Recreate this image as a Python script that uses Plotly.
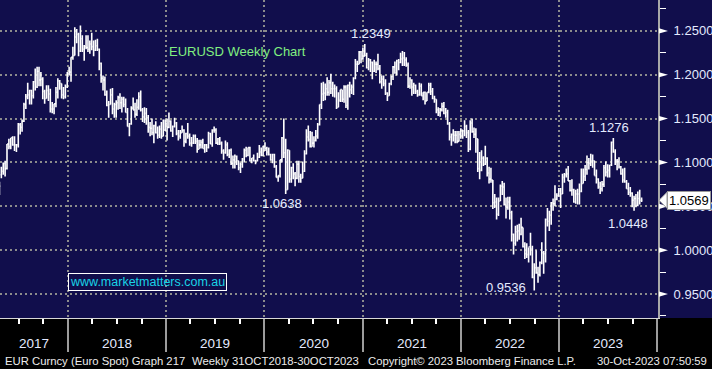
import pandas as pd
import plotly.graph_objects as go

# ---------------- data (weekly EURUSD bars, Friday week ends) ----------------
first_week = "2017-04-21"

week_open = [
    # 2017
    1.064, 1.086, 1.090, 1.099, 1.093, 1.121, 1.118, 1.128, 1.120, 1.120, 1.120, 1.143, 1.140, 1.147, 1.166, 1.175, 1.177, 1.182, 1.176,
    1.192, 1.186, 1.204, 1.194, 1.195, 1.181, 1.173, 1.182, 1.178, 1.161, 1.161, 1.167, 1.180, 1.193, 1.190, 1.177, 1.175, 1.186,
    # 2018
    1.201, 1.203, 1.220, 1.222, 1.243, 1.246, 1.227, 1.241, 1.229, 1.232, 1.231, 1.229, 1.235, 1.232, 1.228, 1.233, 1.229, 1.213, 1.196,
    1.194, 1.177, 1.165, 1.166, 1.177, 1.161, 1.166, 1.168, 1.174, 1.168, 1.172, 1.166, 1.157, 1.141, 1.144, 1.162, 1.160, 1.155, 1.163,
    1.175, 1.160, 1.152, 1.156, 1.151, 1.140, 1.139, 1.134, 1.142, 1.134, 1.131, 1.138, 1.130, 1.137,
    # 2019
    1.144, 1.140, 1.147, 1.136, 1.141, 1.145, 1.133, 1.130, 1.134, 1.137, 1.124, 1.133, 1.130, 1.122, 1.122, 1.130, 1.124, 1.115, 1.120,
    1.123, 1.116, 1.120, 1.117, 1.133, 1.121, 1.137, 1.137, 1.122, 1.127, 1.122, 1.113, 1.111, 1.120, 1.109, 1.114, 1.099, 1.103, 1.107,
    1.102, 1.094, 1.098, 1.104, 1.114, 1.108, 1.117, 1.102, 1.105, 1.102, 1.102, 1.106, 1.112, 1.108,
    # 2020
    1.118, 1.116, 1.112, 1.109, 1.103, 1.109, 1.095, 1.083, 1.085, 1.103, 1.128, 1.111, 1.069, 1.114, 1.081, 1.094, 1.087, 1.082, 1.098,
    1.084, 1.082, 1.090, 1.110, 1.129, 1.126, 1.118, 1.122, 1.125, 1.130, 1.143, 1.166, 1.178, 1.179, 1.184, 1.180, 1.191, 1.184, 1.184,
    1.184, 1.163, 1.171, 1.183, 1.172, 1.186, 1.165, 1.188, 1.183, 1.186, 1.196, 1.212, 1.212, 1.226,
    # 2021
    1.218, 1.221, 1.222, 1.208, 1.217, 1.214, 1.204, 1.212, 1.212, 1.207, 1.192, 1.195, 1.190, 1.179, 1.176, 1.190, 1.198, 1.209, 1.202,
    1.216, 1.214, 1.218, 1.219, 1.217, 1.211, 1.187, 1.194, 1.186, 1.188, 1.181, 1.177, 1.187, 1.176, 1.180, 1.170, 1.180, 1.188, 1.181,
    1.173, 1.172, 1.160, 1.157, 1.160, 1.164, 1.156, 1.157, 1.144, 1.129, 1.132, 1.131, 1.131, 1.124, 1.132,
    # 2022
    1.137, 1.136, 1.141, 1.134, 1.115, 1.145, 1.135, 1.132, 1.127, 1.093, 1.091, 1.105, 1.098, 1.105, 1.088, 1.081, 1.080, 1.054, 1.055,
    1.041, 1.056, 1.073, 1.072, 1.052, 1.049, 1.055, 1.043, 1.018, 1.008, 1.021, 1.022, 1.018, 1.026, 1.004, 0.996, 0.995, 1.004, 1.002,
    0.969, 0.980, 0.974, 0.972, 0.986, 0.997, 0.996, 1.035, 1.033, 1.040, 1.054, 1.053, 1.058, 1.062,
    # 2023
    1.070, 1.064, 1.083, 1.086, 1.087, 1.079, 1.068, 1.069, 1.055, 1.064, 1.064, 1.067, 1.076, 1.084, 1.092, 1.100, 1.099, 1.102, 1.102,
    1.085, 1.081, 1.072, 1.070, 1.075, 1.094, 1.089, 1.091, 1.097, 1.123, 1.112, 1.102, 1.101, 1.095, 1.087, 1.080, 1.078, 1.070, 1.066,
    1.065, 1.057, 1.059, 1.051, 1.059, 1.057,
]

week_high = [
    # 2017
    1.078, 1.095, 1.100, 1.102, 1.121, 1.127, 1.128, 1.130, 1.130, 1.121, 1.145, 1.145, 1.149, 1.168, 1.178, 1.191, 1.183, 1.183, 1.193,
    1.207, 1.209, 1.209, 1.203, 1.197, 1.183, 1.188, 1.188, 1.184, 1.169, 1.167, 1.186, 1.196, 1.194, 1.190, 1.186, 1.189, 1.203,
    # 2018
    1.209, 1.220, 1.232, 1.254, 1.252, 1.248, 1.256, 1.245, 1.234, 1.245, 1.245, 1.239, 1.248, 1.239, 1.240, 1.241, 1.230, 1.214, 1.199,
    1.198, 1.182, 1.170, 1.184, 1.185, 1.168, 1.171, 1.176, 1.179, 1.175, 1.175, 1.173, 1.162, 1.145, 1.164, 1.174, 1.168, 1.172, 1.180,
    1.182, 1.162, 1.163, 1.162, 1.154, 1.146, 1.150, 1.143, 1.147, 1.141, 1.142, 1.146, 1.149, 1.149,
    # 2019
    1.150, 1.157, 1.148, 1.142, 1.151, 1.146, 1.137, 1.137, 1.142, 1.138, 1.134, 1.145, 1.133, 1.129, 1.132, 1.132, 1.128, 1.126, 1.126,
    1.127, 1.121, 1.121, 1.135, 1.134, 1.138, 1.141, 1.139, 1.128, 1.129, 1.124, 1.115, 1.125, 1.123, 1.115, 1.116, 1.108, 1.109, 1.108,
    1.102, 1.100, 1.105, 1.116, 1.118, 1.117, 1.118, 1.105, 1.109, 1.103, 1.111, 1.120, 1.117, 1.119,
    # 2020
    1.123, 1.118, 1.117, 1.110, 1.110, 1.110, 1.097, 1.085, 1.103, 1.129, 1.150, 1.127, 1.115, 1.114, 1.095, 1.099, 1.089, 1.102, 1.102,
    1.087, 1.101, 1.114, 1.138, 1.142, 1.136, 1.135, 1.130, 1.137, 1.145, 1.166, 1.191, 1.192, 1.190, 1.197, 1.194, 1.201, 1.192, 1.189,
    1.187, 1.180, 1.183, 1.183, 1.188, 1.188, 1.189, 1.192, 1.189, 1.197, 1.218, 1.216, 1.227, 1.227,
    # 2021
    1.231, 1.235, 1.225, 1.219, 1.218, 1.215, 1.217, 1.215, 1.224, 1.211, 1.199, 1.199, 1.195, 1.180, 1.191, 1.199, 1.210, 1.215, 1.217,
    1.218, 1.225, 1.227, 1.226, 1.220, 1.214, 1.197, 1.195, 1.191, 1.189, 1.183, 1.191, 1.190, 1.180, 1.181, 1.180, 1.191, 1.191, 1.185,
    1.176, 1.172, 1.163, 1.162, 1.168, 1.169, 1.162, 1.160, 1.146, 1.133, 1.138, 1.136, 1.136, 1.136, 1.139,
    # 2022
    1.137, 1.148, 1.143, 1.137, 1.148, 1.150, 1.140, 1.139, 1.127, 1.112, 1.114, 1.107, 1.119, 1.106, 1.095, 1.094, 1.080, 1.064, 1.060,
    1.060, 1.075, 1.079, 1.077, 1.060, 1.061, 1.061, 1.045, 1.019, 1.028, 1.029, 1.030, 1.037, 1.026, 1.009, 1.008, 1.003, 1.020, 1.005,
    0.985, 1.000, 0.981, 0.987, 1.009, 0.999, 1.036, 1.048, 1.045, 1.055, 1.059, 1.074, 1.065, 1.071,
    # 2023
    1.071, 1.087, 1.088, 1.093, 1.096, 1.080, 1.081, 1.070, 1.069, 1.070, 1.076, 1.093, 1.093, 1.097, 1.108, 1.105, 1.110, 1.109, 1.102,
    1.092, 1.082, 1.078, 1.079, 1.097, 1.101, 1.098, 1.097, 1.124, 1.128, 1.115, 1.104, 1.106, 1.096, 1.093, 1.094, 1.080, 1.077, 1.072,
    1.066, 1.062, 1.064, 1.067, 1.069, 1.060,
]

week_low = [
    # 2017
    1.063, 1.082, 1.086, 1.084, 1.092, 1.115, 1.115, 1.119, 1.113, 1.112, 1.117, 1.132, 1.135, 1.146, 1.161, 1.172, 1.166, 1.166, 1.173,
    1.182, 1.185, 1.187, 1.187, 1.172, 1.167, 1.173, 1.170, 1.157, 1.156, 1.155, 1.163, 1.173, 1.183, 1.173, 1.172, 1.173, 1.185,
    # 2018
    1.199, 1.192, 1.217, 1.222, 1.236, 1.221, 1.226, 1.226, 1.216, 1.229, 1.226, 1.224, 1.228, 1.221, 1.227, 1.227, 1.205, 1.191, 1.182,
    1.176, 1.164, 1.151, 1.166, 1.155, 1.151, 1.151, 1.160, 1.161, 1.157, 1.163, 1.157, 1.141, 1.130, 1.143, 1.160, 1.151, 1.153, 1.160,
    1.158, 1.146, 1.145, 1.143, 1.134, 1.130, 1.131, 1.122, 1.133, 1.127, 1.128, 1.127, 1.130, 1.136,
    # 2019
    1.125, 1.139, 1.135, 1.129, 1.140, 1.131, 1.125, 1.127, 1.134, 1.118, 1.122, 1.127, 1.119, 1.118, 1.121, 1.121, 1.111, 1.115, 1.116,
    1.116, 1.111, 1.112, 1.116, 1.121, 1.118, 1.134, 1.121, 1.120, 1.120, 1.110, 1.103, 1.110, 1.107, 1.105, 1.097, 1.093, 1.093, 1.097,
    1.091, 1.088, 1.094, 1.100, 1.106, 1.107, 1.101, 1.099, 1.101, 1.098, 1.101, 1.105, 1.107, 1.107,
    # 2020
    1.113, 1.108, 1.108, 1.102, 1.099, 1.094, 1.083, 1.078, 1.083, 1.100, 1.105, 1.064, 1.069, 1.077, 1.077, 1.081, 1.073, 1.081, 1.077,
    1.077, 1.082, 1.089, 1.109, 1.124, 1.117, 1.118, 1.117, 1.124, 1.127, 1.142, 1.161, 1.170, 1.171, 1.176, 1.176, 1.178, 1.175, 1.174,
    1.161, 1.163, 1.169, 1.169, 1.168, 1.162, 1.160, 1.174, 1.178, 1.177, 1.195, 1.203, 1.212, 1.213,
    # 2021
    1.217, 1.221, 1.207, 1.205, 1.203, 1.195, 1.203, 1.202, 1.205, 1.190, 1.184, 1.187, 1.177, 1.170, 1.176, 1.188, 1.194, 1.201, 1.199,
    1.205, 1.213, 1.210, 1.210, 1.209, 1.185, 1.184, 1.176, 1.178, 1.178, 1.175, 1.176, 1.176, 1.171, 1.166, 1.170, 1.179, 1.177, 1.172,
    1.168, 1.156, 1.153, 1.152, 1.158, 1.155, 1.151, 1.143, 1.125, 1.119, 1.124, 1.122, 1.122, 1.124, 1.127,
    # 2022
    1.127, 1.130, 1.128, 1.112, 1.114, 1.134, 1.128, 1.111, 1.089, 1.081, 1.090, 1.096, 1.097, 1.084, 1.076, 1.077, 1.047, 1.048, 1.035,
    1.039, 1.056, 1.063, 1.051, 1.036, 1.046, 1.035, 1.010, 0.995, 1.005, 1.010, 1.012, 1.017, 1.003, 0.990, 0.991, 0.986, 0.994, 0.968,
    0.954, 0.973, 0.963, 0.970, 0.984, 0.973, 0.986, 1.027, 1.022, 1.029, 1.045, 1.050, 1.057, 1.061,
    # 2023
    1.048, 1.064, 1.077, 1.083, 1.079, 1.067, 1.062, 1.054, 1.053, 1.052, 1.052, 1.066, 1.076, 1.079, 1.086, 1.092, 1.096, 1.094, 1.085,
    1.076, 1.070, 1.064, 1.067, 1.072, 1.084, 1.083, 1.083, 1.096, 1.111, 1.097, 1.091, 1.093, 1.086, 1.077, 1.077, 1.070, 1.063, 1.061,
    1.049, 1.045, 1.049, 1.050, 1.052, 1.055,
]

week_close = [
    # 2017
    1.073, 1.090, 1.099, 1.093, 1.121, 1.118, 1.128, 1.120, 1.120, 1.120, 1.143, 1.140, 1.147, 1.166, 1.175, 1.177, 1.182, 1.176, 1.192,
    1.186, 1.204, 1.194, 1.195, 1.181, 1.173, 1.182, 1.178, 1.161, 1.161, 1.167, 1.180, 1.193, 1.190, 1.177, 1.175, 1.186, 1.201,
    # 2018
    1.203, 1.220, 1.222, 1.243, 1.246, 1.227, 1.241, 1.229, 1.232, 1.231, 1.229, 1.235, 1.232, 1.228, 1.233, 1.229, 1.213, 1.196, 1.194,
    1.177, 1.165, 1.166, 1.177, 1.161, 1.166, 1.168, 1.174, 1.168, 1.172, 1.166, 1.157, 1.141, 1.144, 1.162, 1.160, 1.155, 1.163, 1.175,
    1.160, 1.152, 1.156, 1.151, 1.140, 1.139, 1.134, 1.142, 1.134, 1.131, 1.138, 1.130, 1.137, 1.144,
    # 2019
    1.140, 1.147, 1.136, 1.141, 1.145, 1.133, 1.130, 1.134, 1.137, 1.124, 1.133, 1.130, 1.122, 1.122, 1.130, 1.124, 1.115, 1.120, 1.123,
    1.116, 1.120, 1.117, 1.133, 1.121, 1.137, 1.137, 1.122, 1.127, 1.122, 1.113, 1.111, 1.120, 1.109, 1.114, 1.099, 1.103, 1.107, 1.102,
    1.094, 1.098, 1.104, 1.114, 1.108, 1.117, 1.102, 1.105, 1.102, 1.102, 1.106, 1.112, 1.108, 1.118,
    # 2020
    1.116, 1.112, 1.109, 1.103, 1.109, 1.095, 1.083, 1.085, 1.103, 1.128, 1.111, 1.069, 1.114, 1.081, 1.094, 1.087, 1.082, 1.098, 1.084,
    1.082, 1.090, 1.110, 1.129, 1.126, 1.118, 1.122, 1.125, 1.130, 1.143, 1.166, 1.178, 1.179, 1.184, 1.180, 1.191, 1.184, 1.184, 1.184,
    1.163, 1.171, 1.183, 1.172, 1.186, 1.165, 1.188, 1.183, 1.186, 1.196, 1.212, 1.212, 1.226, 1.218,
    # 2021
    1.221, 1.222, 1.208, 1.217, 1.214, 1.204, 1.212, 1.212, 1.207, 1.192, 1.195, 1.190, 1.179, 1.176, 1.190, 1.198, 1.209, 1.202, 1.216,
    1.214, 1.218, 1.219, 1.217, 1.211, 1.187, 1.194, 1.186, 1.188, 1.181, 1.177, 1.187, 1.176, 1.180, 1.170, 1.180, 1.188, 1.181, 1.173,
    1.172, 1.160, 1.157, 1.160, 1.164, 1.156, 1.157, 1.144, 1.129, 1.132, 1.131, 1.131, 1.124, 1.132, 1.137,
    # 2022
    1.136, 1.141, 1.134, 1.115, 1.145, 1.135, 1.132, 1.127, 1.093, 1.091, 1.105, 1.098, 1.105, 1.088, 1.081, 1.080, 1.054, 1.055, 1.041,
    1.056, 1.073, 1.072, 1.052, 1.049, 1.055, 1.043, 1.018, 1.008, 1.021, 1.022, 1.018, 1.026, 1.004, 0.996, 0.995, 1.004, 1.002, 0.969,
    0.980, 0.974, 0.972, 0.986, 0.997, 0.996, 1.035, 1.033, 1.040, 1.054, 1.053, 1.058, 1.062, 1.070,
    # 2023
    1.064, 1.083, 1.086, 1.087, 1.079, 1.068, 1.069, 1.055, 1.064, 1.064, 1.067, 1.076, 1.084, 1.092, 1.100, 1.099, 1.102, 1.102, 1.085,
    1.081, 1.072, 1.070, 1.075, 1.094, 1.089, 1.091, 1.097, 1.123, 1.112, 1.102, 1.101, 1.095, 1.087, 1.080, 1.078, 1.070, 1.066, 1.065,
    1.057, 1.059, 1.051, 1.059, 1.057, 1.057,
]

last_price = 1.0569
year_labels = ["2017", "2018", "2019", "2020", "2021", "2022", "2023"]
y_tick_values = [0.95, 1.00, 1.05, 1.10, 1.15, 1.20, 1.25]
chart_title = "EURUSD Weekly Chart"
extreme_labels = ["1.2349", "1.0638", "0.9536", "1.1276", "1.0448"]
site_label = "www.marketmatters.com.au"
footer_texts = ["EUR Curncy (Euro Spot) Graph 217", "Weekly 31OCT2018-30OCT2023",
                "Copyright\u00a9 2023 Bloomberg Finance L.P.", "30-Oct-2023 07:50:59"]

assert len(week_open) == len(week_high) == len(week_low) == len(week_close)
dates = pd.date_range(first_week, periods=len(week_close), freq="W-FRI")

# ---------------- layout geometry / style ----------------
W, H = 712, 369
PW, PH = 658, 318            # plot area (pixels)
NAVY = "#110e4c"
GRID = "#8c8c8c"
LABEL = "#e4eaff"
FONT = "Liberation Sans, Arial, sans-serif"
x_range = [pd.Timestamp("2017-04-23"), pd.Timestamp("2024-01-03")]
y_range = [0.9227, 1.2852]


def fx(p):
    return p / PW


def fy(p):
    return 1 - p / PH


def yv(v):
    return (v - y_range[0]) / (y_range[1] - y_range[0])


fig = go.Figure(go.Ohlc(
    x=dates, open=week_open, high=week_high, low=week_low, close=week_close,
    increasing=dict(line=dict(color="white", width=1.6)),
    decreasing=dict(line=dict(color="white", width=1.6)),
    tickwidth=0.5, hoverinfo="skip", showlegend=False,
))

year_starts = pd.date_range("2018-01-01", "2024-01-01", freq="YS")

shapes = [
    # navy background continues behind the right-hand price axis
    dict(type="rect", xref="paper", yref="paper", x0=1, x1=W / PW, y0=0, y1=1,
         fillcolor=NAVY, line=dict(width=0), layer="below"),
]
# pointer triangles on the major price ticks
d = 2.6 / PH
for v in y_tick_values:
    yp = yv(v)
    shapes.append(dict(type="path", xref="paper", yref="paper",
                       path=f"M {fx(659)} {yp + d} L {fx(668)} {yp} L {fx(659)} {yp - d} Z",
                       fillcolor="white", line=dict(width=0), layer="above"))
# last-price pointer
yp = yv(last_price)
shapes.append(dict(type="path", xref="paper", yref="paper",
                   path=f"M {fx(659)} {yp} L {fx(667)} {yp + 8 / PH} L {fx(667)} {yp - 8 / PH} Z",
                   fillcolor="white", line=dict(color="#9a9a9a", width=1), layer="above"))

annotations = []
# year labels centred in the visible part of each year
for lab in year_labels:
    yr = int(lab)
    s = max(pd.Timestamp(f"{yr}-01-01"), x_range[0])
    e = min(pd.Timestamp(f"{yr + 1}-01-01"), x_range[1])
    mid = s + (e - s) / 2
    annotations.append(dict(x=mid, xref="x", y=fy(343), yref="paper", text=lab, showarrow=False,
                            xanchor="center", yanchor="middle",
                            font=dict(family=FONT, size=13.5, color=LABEL)))

annotations.append(dict(x=fx(237), y=fy(52), xref="paper", yref="paper", text=chart_title,
                        showarrow=False, xanchor="center", yanchor="middle",
                        font=dict(family=FONT, size=13, color="#80ee80")))

extreme_pos = [(371, 34), (282, 203), (506, 287), (609, 127), (628, 223)]
for txt, (px_, py_) in zip(extreme_labels, extreme_pos):
    annotations.append(dict(x=fx(px_), y=fy(py_), xref="paper", yref="paper", text=txt,
                            showarrow=False, xanchor="center", yanchor="middle",
                            font=dict(family=FONT, size=13, color=LABEL)))

annotations.append(dict(x=fx(147), y=fy(281.5), xref="paper", yref="paper", text=site_label,
                        showarrow=False, xanchor="center", yanchor="middle",
                        bordercolor="white", borderwidth=1, borderpad=1,
                        font=dict(family=FONT, size=12.5, color="#19d3e6")))

annotations.append(dict(x=fx(689), y=last_price, xref="paper", yref="y", text=f"{last_price:.4f}",
                        showarrow=False, xanchor="center", yanchor="middle",
                        bgcolor="white", bordercolor="#9a9a9a", borderwidth=1, borderpad=1,
                        font=dict(family=FONT, size=13, color="black")))

footer_x = [3, 190, 366, 595]
for txt, px_ in zip(footer_texts, footer_x):
    annotations.append(dict(x=fx(px_), y=fy(361), xref="paper", yref="paper", text=txt,
                            showarrow=False, xanchor="left", yanchor="middle",
                            font=dict(family=FONT, size=11.3, color="#ececec")))

fig.update_layout(
    width=W, height=H, autosize=False, template="none",
    margin=dict(l=0, r=W - PW, t=0, b=H - PH, pad=0),
    paper_bgcolor="black", plot_bgcolor=NAVY,
    showlegend=False, hovermode=False,
    xaxis=dict(
        type="date", range=x_range, rangeslider=dict(visible=False),
        tickmode="array", tickvals=year_starts, ticktext=[""] * len(year_starts),
        ticks="outside", ticklen=33, tickwidth=1.5, tickcolor="#9c9c9c",
        showgrid=True, gridcolor=GRID, gridwidth=2, griddash="2px,3px",
        minor=dict(dtick="M3", tick0="2017-01-01", ticks="outside", ticklen=5,
                   tickwidth=1.5, tickcolor="white", showgrid=False),
        showline=True, linecolor="#d8d8d8", linewidth=1,
        zeroline=False, automargin=False, fixedrange=True,
    ),
    yaxis=dict(
        side="right", range=y_range,
        tickmode="array", tickvals=y_tick_values, ticktext=[f"{v:.4f}" for v in y_tick_values],
        ticks="outside", ticklen=11, tickwidth=1, tickcolor=NAVY,
        tickfont=dict(family=FONT, size=13, color=LABEL),
        showgrid=True, gridcolor=GRID, gridwidth=2, griddash="2px,3px",
        minor=dict(dtick=0.05, tick0=0.975, ticks="outside", ticklen=6,
                   tickwidth=1.2, tickcolor="white", showgrid=False),
        showline=True, linecolor="#a8a8a8", linewidth=2,
        zeroline=False, automargin=False, fixedrange=True,
    ),
    shapes=shapes, annotations=annotations,
)

fig.write_html(
    "out.html",
    config={"displayModeBar": False},
    post_script="document.body.style.margin='0';document.body.style.overflow='hidden';",
)
